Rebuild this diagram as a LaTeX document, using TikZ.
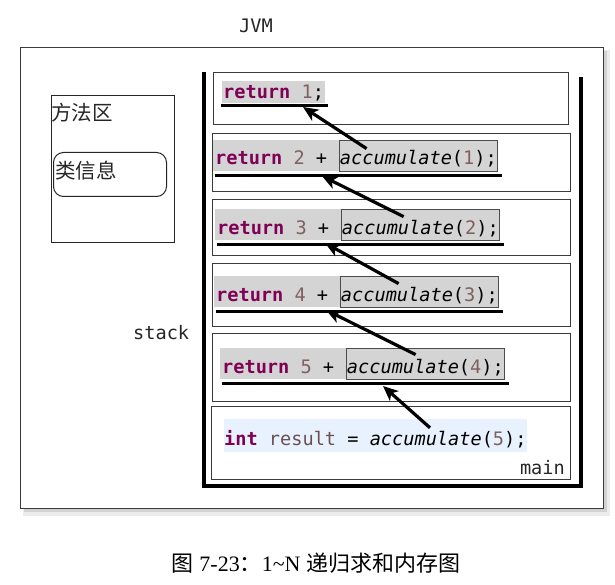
\documentclass[tikz,border=0pt]{standalone}
\usepackage{fontspec}
\setmainfont{Liberation Serif}
\newfontfamily\cjk{Noto Sans CJK SC}
\newfontfamily\codefont{DejaVu Sans Mono}
\usetikzlibrary{arrows.meta,calc,backgrounds}
\definecolor{kwc}{HTML}{7F0055}
\definecolor{numc}{HTML}{7F6060}
\definecolor{varc}{HTML}{6A5050}
\definecolor{hlg}{HTML}{D4D4D4}
\definecolor{hlb}{HTML}{E8F2FE}
\definecolor{framec}{HTML}{3A3A3A}
\newcommand{\kw}[1]{\textcolor{kwc}{\bfseries #1}}
\newcommand{\nm}[1]{\textcolor{numc}{#1}}
\newcommand{\codesize}{\codefont\fontsize{18.6}{22}\selectfont}
\newcommand{\cjksize}{\cjk\fontsize{20.5}{24}\selectfont}
\begin{document}
\begin{tikzpicture}[x=1pt,y=-1pt,
  code/.style={inner sep=0pt, font=\codesize, anchor=base west},
  accbox/.style={draw=black!70, line width=0.8pt, inner xsep=1pt, inner ysep=3pt,
                 text height=22pt, text depth=3pt, font=\codesize, anchor=base west},
  framebox/.style={draw=framec, line width=1.2pt, anchor=north west, inner sep=0pt},
  stackline/.style={line width=4pt, line join=miter},
  uline/.style={line width=3pt},
  arr/.style={line width=3.2pt, -{Stealth[length=15pt,width=13pt,inset=4pt]}},
  lbl/.style={font=\codesize, inner sep=0pt}
]
\useasboundingbox (0,0) rectangle (615,585);
\begin{scope}[on background layer]
\fill[white] (0,0) rectangle (615,585);
% outer JVM box with shadow
\fill[gray!15] (23,50) rectangle (610,516);
\fill[gray!35] (24,51) rectangle (607,512);
\node[draw=framec, line width=1.2pt, fill=white, anchor=north west, inner sep=0pt,
      minimum width=583pt, minimum height=461pt] (jvm) at (20,47) {};
\end{scope}
\node[lbl, color=black!85] (jvmlbl) at (256,26) {JVM};

% method area
\node[draw=black!85, line width=1pt, anchor=north west, inner sep=0pt,
      minimum width=123pt, minimum height=147pt] (ma) at (51,95) {};
\node[font=\cjksize, inner sep=0pt, anchor=west, color=black!85] (malbl) at (51,113) {方法区};
\node[draw=black!85, line width=1pt, rounded corners=10pt, anchor=north west, inner sep=0pt,
      minimum width=113pt, minimum height=44pt] (ci) at (53,152) {};
\node[font=\cjksize, inner sep=0pt, anchor=west, color=black!85] (cilbl) at (55,171) {类信息};

\node[lbl, anchor=west, color=black!85] (stacklbl) at (133,333) {stack};

% stack container
\draw[stackline] (204,72) -- (204,486) -- (581,486) -- (581,77);

% frames
\node[framebox, minimum width=355pt, minimum height=52pt] (f1) at (213,72) {};
\node[framebox, minimum width=358pt, minimum height=58pt] (f2) at (212,133) {};
\node[framebox, minimum width=358pt, minimum height=56pt] (f3) at (212,199) {};
\node[framebox, minimum width=358pt, minimum height=63pt] (f4) at (212,263) {};
\node[framebox, minimum width=358pt, minimum height=68pt] (f5) at (212,333) {};
\node[framebox, minimum width=359pt, minimum height=73pt] (f6) at (211,406) {};

% frame 1
\node[code, fill=hlg, inner xsep=1pt, inner ysep=3pt, text height=15pt, text depth=1pt] (r1) at (222,99) {\kw{return} \nm{1};};
% frame 2
\node[code] (r2) at (215,165) {\kw{return} \nm{2} +};
\node[accbox] (a2) at ($(r2.base east)+(11.2,0)$) {\textit{accumulate}(\nm{1});};
% frame 3
\node[code] (r3) at (217,234) {\kw{return} \nm{3} +};
\node[accbox] (a3) at ($(r3.base east)+(11.2,0)$) {\textit{accumulate}(\nm{2});};
% frame 4
\node[code] (r4) at (216,301) {\kw{return} \nm{4} +};
\node[accbox] (a4) at ($(r4.base east)+(11.2,0)$) {\textit{accumulate}(\nm{3});};
% frame 5
\node[code] (r5) at (222,373) {\kw{return} \nm{5} +};
\node[accbox] (a5) at ($(r5.base east)+(11.2,0)$) {\textit{accumulate}(\nm{4});};
% main frame
\node[code, fill=hlb, inner ysep=4pt, text height=22pt, text depth=3pt] (r6) at (224,445)
  {\kw{int} \textcolor{varc}{result} = \textit{accumulate}(\nm{5});};
\node[lbl, anchor=east, color=black!85] (mainlbl) at (565,468) {main};

% grey highlight behind lines
\begin{scope}[on background layer]
  \foreach \i in {2,3,4,5}{
    \fill[hlg] ($(a\i.north -| r\i.west)+(-2,0)$) rectangle (a\i.south east);
  }
\end{scope}

% underlines
\draw[uline] ($(r1.south west)+(-1,2)$) -- ($(r1.south east)+(3,2)$);
\foreach \i in {2,3,4,5}{
  \draw[uline] ($(a\i.south -| r\i.west)+(0,4)$) -- ($(a\i.south east)+(4,4)$);
}

% arrow coordinates
\coordinate (s2) at ($(a2.north west)+(28,9)$);
\coordinate (s3) at ($(a3.north west)+(63,8)$);
\coordinate (s4) at ($(a4.north west)+(59,8)$);
\coordinate (s5) at ($(a5.north west)+(70,7)$);
\coordinate (s6) at ($(r6.north west)+(206,9)$);
\coordinate (t1) at (303,107);
\coordinate (t2) at (322,176);
\coordinate (t3) at (325,243);
\coordinate (t4) at (326,310);
\coordinate (t5) at (383,386);

\draw[arr] (s2) -- (t1);
\draw[arr] (s3) -- (t2);
\draw[arr] (s4) -- (t3);
\draw[arr] (s5) -- (t4);
\draw[arr] (s6) -- (t5);

% caption
\node[inner sep=0pt, font=\fontsize{22}{26}\selectfont] (cap) at (316,563)
  {{\cjk 图}\hspace{0.25em}7-23{\cjk ：}1\textasciitilde N\hspace{0.25em}{\cjk 递归求和内存图}};
\end{tikzpicture}
\end{document}
